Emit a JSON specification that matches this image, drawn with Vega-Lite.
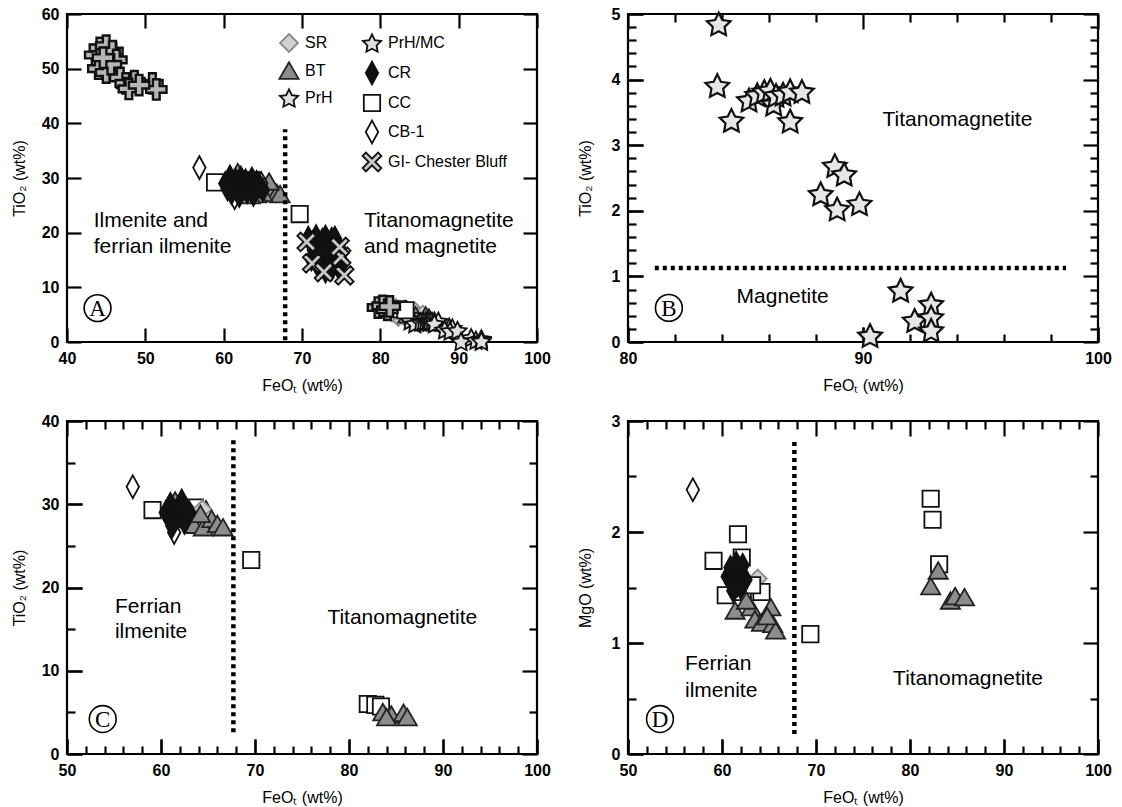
{
  "$schema": "https://vega.github.io/schema/vega-lite/v6.json",
  "background": "white",
  "padding": {"left": 10, "top": 4, "right": 5, "bottom": 0},
  "config": {
    "view": {"stroke": "#000000", "strokeWidth": 2.2},
    "axis": {"domain": false, "grid": false, "tickColor": "#000000", "tickWidth": 2.2, "labelFont": "Liberation Sans", "labelFontSize": 16, "labelFontWeight": "bold", "labelColor": "#000000", "labelPadding": 23, "titleFont": "Liberation Sans", "titleFontSize": 16, "titleFontWeight": "normal", "titleColor": "#000000", "labelFlush": false, "labelOverlap": false, "labelBound": false},
    "legend": {"labelFont": "Liberation Sans", "labelFontSize": 16, "labelColor": "#000000", "symbolSize": 576, "rowPadding": 2, "labelOffset": 3, "symbolStrokeWidth": 1.8, "padding": 0, "title": null},
    "text": {"font": "Liberation Sans", "fontSize": 21, "color": "#000000"}
  },
  "datasets": {
    "A_pts": [
      {"series": "Other", "FeOt": 43.6, "TiO2": 52.5}, {"series": "Other", "FeOt": 44.2, "TiO2": 53.8}, {"series": "Other", "FeOt": 45.0, "TiO2": 54.2}, {"series": "Other", "FeOt": 45.8, "TiO2": 53.2}, {"series": "Other", "FeOt": 46.3, "TiO2": 51.6}, {"series": "Other", "FeOt": 44.0, "TiO2": 50.0}, {"series": "Other", "FeOt": 45.0, "TiO2": 49.3}, {"series": "Other", "FeOt": 45.6, "TiO2": 50.8}, {"series": "Other", "FeOt": 44.6, "TiO2": 52.0}, {"series": "Other", "FeOt": 46.8, "TiO2": 48.3}, {"series": "Other", "FeOt": 47.5, "TiO2": 47.3}, {"series": "Other", "FeOt": 48.6, "TiO2": 47.7}, {"series": "Other", "FeOt": 47.9, "TiO2": 46.3}, {"series": "Other", "FeOt": 50.9, "TiO2": 47.3}, {"series": "Other", "FeOt": 51.4, "TiO2": 46.2}, {"series": "Other", "FeOt": 49.2, "TiO2": 47.0}, {"series": "Other", "FeOt": 79.7, "TiO2": 6.3}, {"series": "Other", "FeOt": 80.3, "TiO2": 6.6}, {"series": "Other", "FeOt": 80.9, "TiO2": 5.9}, {"series": "Other", "FeOt": 81.2, "TiO2": 6.5},
      {"series": "CB-1", "FeOt": 56.9, "TiO2": 31.9}, {"series": "CB-1", "FeOt": 61.4, "TiO2": 26.4}, {"series": "CB-1", "FeOt": 64.8, "TiO2": 29.0},
      {"series": "CC", "FeOt": 58.9, "TiO2": 29.2}, {"series": "CC", "FeOt": 69.7, "TiO2": 23.4}, {"series": "CC", "FeOt": 61.8, "TiO2": 29.8}, {"series": "CC", "FeOt": 62.8, "TiO2": 28.2}, {"series": "CC", "FeOt": 63.6, "TiO2": 29.6}, {"series": "CC", "FeOt": 82.3, "TiO2": 6.0}, {"series": "CC", "FeOt": 83.2, "TiO2": 5.8},
      {"series": "SR", "FeOt": 62.0, "TiO2": 29.5}, {"series": "SR", "FeOt": 63.0, "TiO2": 28.0}, {"series": "SR", "FeOt": 64.5, "TiO2": 29.5}, {"series": "SR", "FeOt": 65.0, "TiO2": 28.5}, {"series": "SR", "FeOt": 82.0, "TiO2": 6.2}, {"series": "SR", "FeOt": 82.6, "TiO2": 5.6}, {"series": "SR", "FeOt": 83.2, "TiO2": 6.0}, {"series": "SR", "FeOt": 83.8, "TiO2": 5.2}, {"series": "SR", "FeOt": 84.4, "TiO2": 5.6}, {"series": "SR", "FeOt": 83.0, "TiO2": 4.8}, {"series": "SR", "FeOt": 84.8, "TiO2": 4.6}, {"series": "SR", "FeOt": 85.4, "TiO2": 5.0}, {"series": "SR", "FeOt": 82.3, "TiO2": 4.6}, {"series": "SR", "FeOt": 81.5, "TiO2": 5.4},
      {"series": "BT", "FeOt": 65.6, "TiO2": 28.6}, {"series": "BT", "FeOt": 66.2, "TiO2": 27.8}, {"series": "BT", "FeOt": 66.8, "TiO2": 27.2}, {"series": "BT", "FeOt": 67.2, "TiO2": 27.0}, {"series": "BT", "FeOt": 65.0, "TiO2": 27.2}, {"series": "BT", "FeOt": 64.2, "TiO2": 27.0}, {"series": "BT", "FeOt": 63.4, "TiO2": 26.8}, {"series": "BT", "FeOt": 65.8, "TiO2": 29.3}, {"series": "BT", "FeOt": 61.8, "TiO2": 31.0}, {"series": "BT", "FeOt": 83.5, "TiO2": 5.0}, {"series": "BT", "FeOt": 84.5, "TiO2": 4.8}, {"series": "BT", "FeOt": 85.8, "TiO2": 4.8}, {"series": "BT", "FeOt": 86.2, "TiO2": 4.4},
      {"series": "CR", "FeOt": 60.2, "TiO2": 29.0}, {"series": "CR", "FeOt": 60.8, "TiO2": 30.2}, {"series": "CR", "FeOt": 61.2, "TiO2": 28.5}, {"series": "CR", "FeOt": 61.5, "TiO2": 29.6}, {"series": "CR", "FeOt": 61.9, "TiO2": 27.8}, {"series": "CR", "FeOt": 62.2, "TiO2": 30.0}, {"series": "CR", "FeOt": 62.5, "TiO2": 28.8}, {"series": "CR", "FeOt": 62.8, "TiO2": 29.5}, {"series": "CR", "FeOt": 63.0, "TiO2": 27.5}, {"series": "CR", "FeOt": 63.3, "TiO2": 28.6}, {"series": "CR", "FeOt": 63.6, "TiO2": 29.8}, {"series": "CR", "FeOt": 64.0, "TiO2": 28.0}, {"series": "CR", "FeOt": 64.2, "TiO2": 29.2}, {"series": "CR", "FeOt": 61.0, "TiO2": 27.3}, {"series": "CR", "FeOt": 60.5, "TiO2": 28.0}, {"series": "CR", "FeOt": 62.0, "TiO2": 26.8}, {"series": "CR", "FeOt": 63.8, "TiO2": 27.0}, {"series": "CR", "FeOt": 64.6, "TiO2": 28.6}, {"series": "CR", "FeOt": 65.0, "TiO2": 27.8},
      {"series": "CR", "FeOt": 70.8, "TiO2": 19.0}, {"series": "CR", "FeOt": 71.3, "TiO2": 18.2}, {"series": "CR", "FeOt": 71.8, "TiO2": 19.3}, {"series": "CR", "FeOt": 72.2, "TiO2": 17.5}, {"series": "CR", "FeOt": 72.6, "TiO2": 18.6}, {"series": "CR", "FeOt": 73.0, "TiO2": 19.2}, {"series": "CR", "FeOt": 73.4, "TiO2": 17.8}, {"series": "CR", "FeOt": 73.8, "TiO2": 18.8}, {"series": "CR", "FeOt": 74.2, "TiO2": 19.0}, {"series": "CR", "FeOt": 74.6, "TiO2": 17.6}, {"series": "CR", "FeOt": 72.0, "TiO2": 16.2}, {"series": "CR", "FeOt": 72.5, "TiO2": 15.3}, {"series": "CR", "FeOt": 73.0, "TiO2": 16.8}, {"series": "CR", "FeOt": 73.5, "TiO2": 14.6}, {"series": "CR", "FeOt": 74.0, "TiO2": 16.0}, {"series": "CR", "FeOt": 74.5, "TiO2": 15.0}, {"series": "CR", "FeOt": 75.0, "TiO2": 16.6}, {"series": "CR", "FeOt": 72.2, "TiO2": 13.5}, {"series": "CR", "FeOt": 73.0, "TiO2": 13.0}, {"series": "CR", "FeOt": 73.8, "TiO2": 13.4}, {"series": "CR", "FeOt": 74.6, "TiO2": 13.8}, {"series": "CR", "FeOt": 75.2, "TiO2": 14.5}, {"series": "CR", "FeOt": 71.5, "TiO2": 16.8}, {"series": "CR", "FeOt": 71.2, "TiO2": 15.2},
      {"series": "GI- Chester Bluff", "FeOt": 70.6, "TiO2": 18.3}, {"series": "GI- Chester Bluff", "FeOt": 71.3, "TiO2": 14.4}, {"series": "GI- Chester Bluff", "FeOt": 75.4, "TiO2": 12.2}, {"series": "GI- Chester Bluff", "FeOt": 75.0, "TiO2": 15.6}, {"series": "GI- Chester Bluff", "FeOt": 74.8, "TiO2": 17.4}, {"series": "GI- Chester Bluff", "FeOt": 72.8, "TiO2": 12.8},
      {"series": "PrH", "FeOt": 83.86, "TiO2": 4.85}, {"series": "PrH", "FeOt": 83.8, "TiO2": 3.91}, {"series": "PrH", "FeOt": 84.4, "TiO2": 3.38}, {"series": "PrH", "FeOt": 85.15, "TiO2": 3.69}, {"series": "PrH", "FeOt": 85.5, "TiO2": 3.77}, {"series": "PrH", "FeOt": 85.8, "TiO2": 3.82}, {"series": "PrH", "FeOt": 86.06, "TiO2": 3.84}, {"series": "PrH", "FeOt": 86.2, "TiO2": 3.63}, {"series": "PrH", "FeOt": 86.3, "TiO2": 3.76}, {"series": "PrH", "FeOt": 86.6, "TiO2": 3.78}, {"series": "PrH", "FeOt": 86.9, "TiO2": 3.83}, {"series": "PrH", "FeOt": 87.4, "TiO2": 3.82}, {"series": "PrH", "FeOt": 86.9, "TiO2": 3.37}, {"series": "PrH", "FeOt": 88.8, "TiO2": 2.69}, {"series": "PrH", "FeOt": 89.2, "TiO2": 2.56}, {"series": "PrH", "FeOt": 88.2, "TiO2": 2.26}, {"series": "PrH", "FeOt": 88.9, "TiO2": 2.03}, {"series": "PrH", "FeOt": 89.85, "TiO2": 2.11},
      {"series": "PrH/MC", "FeOt": 91.6, "TiO2": 0.79}, {"series": "PrH/MC", "FeOt": 90.3, "TiO2": 0.10}, {"series": "PrH/MC", "FeOt": 92.2, "TiO2": 0.33}, {"series": "PrH/MC", "FeOt": 92.9, "TiO2": 0.58}, {"series": "PrH/MC", "FeOt": 92.9, "TiO2": 0.38}, {"series": "PrH/MC", "FeOt": 92.9, "TiO2": 0.18}
    ],
    "B_pts": [
      {"series": "PrH", "FeOt": 83.86, "TiO2": 4.85}, {"series": "PrH", "FeOt": 83.8, "TiO2": 3.91}, {"series": "PrH", "FeOt": 84.4, "TiO2": 3.38}, {"series": "PrH", "FeOt": 85.15, "TiO2": 3.69}, {"series": "PrH", "FeOt": 85.5, "TiO2": 3.77}, {"series": "PrH", "FeOt": 85.8, "TiO2": 3.82}, {"series": "PrH", "FeOt": 86.06, "TiO2": 3.84}, {"series": "PrH", "FeOt": 86.2, "TiO2": 3.63}, {"series": "PrH", "FeOt": 86.3, "TiO2": 3.76}, {"series": "PrH", "FeOt": 86.6, "TiO2": 3.78}, {"series": "PrH", "FeOt": 86.9, "TiO2": 3.83}, {"series": "PrH", "FeOt": 87.4, "TiO2": 3.82}, {"series": "PrH", "FeOt": 86.9, "TiO2": 3.37}, {"series": "PrH", "FeOt": 88.8, "TiO2": 2.69}, {"series": "PrH", "FeOt": 89.2, "TiO2": 2.56}, {"series": "PrH", "FeOt": 88.2, "TiO2": 2.26}, {"series": "PrH", "FeOt": 88.9, "TiO2": 2.03}, {"series": "PrH", "FeOt": 89.85, "TiO2": 2.11},
      {"series": "PrH/MC", "FeOt": 91.6, "TiO2": 0.79}, {"series": "PrH/MC", "FeOt": 90.3, "TiO2": 0.10}, {"series": "PrH/MC", "FeOt": 92.2, "TiO2": 0.33}, {"series": "PrH/MC", "FeOt": 92.9, "TiO2": 0.58}, {"series": "PrH/MC", "FeOt": 92.9, "TiO2": 0.38}, {"series": "PrH/MC", "FeOt": 92.9, "TiO2": 0.18}
    ],
    "C_pts": [
      {"series": "CB-1", "FeOt": 57.0, "TiO2": 32.1}, {"series": "CB-1", "FeOt": 61.4, "TiO2": 26.6}, {"series": "CB-1", "FeOt": 64.8, "TiO2": 29.0},
      {"series": "CC", "FeOt": 59.1, "TiO2": 29.3}, {"series": "CC", "FeOt": 69.6, "TiO2": 23.3}, {"series": "CC", "FeOt": 61.8, "TiO2": 29.8}, {"series": "CC", "FeOt": 62.8, "TiO2": 28.2}, {"series": "CC", "FeOt": 63.6, "TiO2": 29.6}, {"series": "CC", "FeOt": 82.0, "TiO2": 6.0}, {"series": "CC", "FeOt": 82.8, "TiO2": 5.9}, {"series": "CC", "FeOt": 83.4, "TiO2": 5.7},
      {"series": "SR", "FeOt": 62.6, "TiO2": 29.6}, {"series": "SR", "FeOt": 63.6, "TiO2": 28.0}, {"series": "SR", "FeOt": 64.4, "TiO2": 29.4},
      {"series": "BT", "FeOt": 61.5, "TiO2": 30.4}, {"series": "BT", "FeOt": 63.5, "TiO2": 27.5}, {"series": "BT", "FeOt": 64.5, "TiO2": 27.2}, {"series": "BT", "FeOt": 65.4, "TiO2": 28.2}, {"series": "BT", "FeOt": 66.0, "TiO2": 27.6}, {"series": "BT", "FeOt": 66.6, "TiO2": 27.2}, {"series": "BT", "FeOt": 64.2, "TiO2": 28.8}, {"series": "BT", "FeOt": 83.6, "TiO2": 5.0}, {"series": "BT", "FeOt": 84.5, "TiO2": 4.7}, {"series": "BT", "FeOt": 85.8, "TiO2": 4.9}, {"series": "BT", "FeOt": 86.2, "TiO2": 4.4}, {"series": "BT", "FeOt": 84.0, "TiO2": 4.4},
      {"series": "CR", "FeOt": 60.5, "TiO2": 29.0}, {"series": "CR", "FeOt": 61.0, "TiO2": 30.0}, {"series": "CR", "FeOt": 61.5, "TiO2": 28.2}, {"series": "CR", "FeOt": 62.0, "TiO2": 29.2}, {"series": "CR", "FeOt": 62.5, "TiO2": 27.8}, {"series": "CR", "FeOt": 63.0, "TiO2": 29.0}, {"series": "CR", "FeOt": 61.2, "TiO2": 27.4}, {"series": "CR", "FeOt": 62.2, "TiO2": 30.4}
    ],
    "D_pts": [
      {"series": "CB-1", "FeOt": 56.9, "MgO": 2.38}, {"series": "SR", "FeOt": 63.8, "MgO": 1.58},
      {"series": "CC", "FeOt": 59.1, "MgO": 1.74}, {"series": "CC", "FeOt": 61.7, "MgO": 1.98}, {"series": "CC", "FeOt": 62.1, "MgO": 1.77}, {"series": "CC", "FeOt": 60.4, "MgO": 1.43}, {"series": "CC", "FeOt": 64.2, "MgO": 1.46}, {"series": "CC", "FeOt": 62.2, "MgO": 1.46}, {"series": "CC", "FeOt": 63.2, "MgO": 1.52}, {"series": "CC", "FeOt": 69.4, "MgO": 1.08}, {"series": "CC", "FeOt": 82.2, "MgO": 2.30}, {"series": "CC", "FeOt": 82.4, "MgO": 2.11}, {"series": "CC", "FeOt": 83.1, "MgO": 1.71},
      {"series": "CR", "FeOt": 60.6, "MgO": 1.60}, {"series": "CR", "FeOt": 61.0, "MgO": 1.55}, {"series": "CR", "FeOt": 61.3, "MgO": 1.65}, {"series": "CR", "FeOt": 61.6, "MgO": 1.52}, {"series": "CR", "FeOt": 61.9, "MgO": 1.62}, {"series": "CR", "FeOt": 62.2, "MgO": 1.70}, {"series": "CR", "FeOt": 62.5, "MgO": 1.57}, {"series": "CR", "FeOt": 61.2, "MgO": 1.47}, {"series": "CR", "FeOt": 62.0, "MgO": 1.50}, {"series": "CR", "FeOt": 60.9, "MgO": 1.68}, {"series": "CR", "FeOt": 61.5, "MgO": 1.72},
      {"series": "BT", "FeOt": 61.4, "MgO": 1.29}, {"series": "BT", "FeOt": 63.1, "MgO": 1.32}, {"series": "BT", "FeOt": 63.5, "MgO": 1.21}, {"series": "BT", "FeOt": 64.2, "MgO": 1.18}, {"series": "BT", "FeOt": 65.2, "MgO": 1.32}, {"series": "BT", "FeOt": 65.4, "MgO": 1.17}, {"series": "BT", "FeOt": 65.7, "MgO": 1.11}, {"series": "BT", "FeOt": 64.8, "MgO": 1.24}, {"series": "BT", "FeOt": 62.6, "MgO": 1.38}, {"series": "BT", "FeOt": 82.2, "MgO": 1.51}, {"series": "BT", "FeOt": 83.0, "MgO": 1.65}, {"series": "BT", "FeOt": 84.3, "MgO": 1.38}, {"series": "BT", "FeOt": 84.8, "MgO": 1.42}, {"series": "BT", "FeOt": 85.8, "MgO": 1.41}
    ],
    "notes": [
      {"panel": "A", "FeOt": 43.4, "val": 22.2, "text": "Ilmenite and"},
      {"panel": "A", "FeOt": 43.4, "val": 17.4, "text": "ferrian ilmenite"},
      {"panel": "A", "FeOt": 77.9, "val": 22.2, "text": "Titanomagnetite"},
      {"panel": "A", "FeOt": 77.9, "val": 17.4, "text": "and magnetite"},
      {"panel": "B", "FeOt": 90.83, "val": 3.38, "text": "Titanomagnetite"},
      {"panel": "B", "FeOt": 84.62, "val": 0.69, "text": "Magnetite"},
      {"panel": "C", "FeOt": 55.1, "val": 17.7, "text": "Ferrian"},
      {"panel": "C", "FeOt": 55.1, "val": 14.7, "text": "ilmenite"},
      {"panel": "C", "FeOt": 77.7, "val": 16.3, "text": "Titanomagnetite"},
      {"panel": "D", "FeOt": 56.06, "val": 0.81, "text": "Ferrian"},
      {"panel": "D", "FeOt": 56.06, "val": 0.57, "text": "ilmenite"},
      {"panel": "D", "FeOt": 78.2, "val": 0.675, "text": "Titanomagnetite"}
    ],
    "letters": [
      {"panel": "A", "FeOt": 43.9, "val": 6.2, "letter": "A"},
      {"panel": "B", "FeOt": 81.74, "val": 0.52, "letter": "B"},
      {"panel": "C", "FeOt": 53.8, "val": 4.2, "letter": "C"},
      {"panel": "D", "FeOt": 53.4, "val": 0.315, "letter": "D"}
    ],
    "lines": [
      {"panel": "A", "FeOt": 67.85, "FeOt2": 67.85, "val": 0.3, "val2": 38.9},
      {"panel": "B", "FeOt": 81.14, "FeOt2": 98.64, "val": 1.127, "val2": 1.127},
      {"panel": "C", "FeOt": 67.7, "FeOt2": 67.7, "val": 2.6, "val2": 37.9},
      {"panel": "D", "FeOt": 67.7, "FeOt2": 67.7, "val": 0.18, "val2": 2.835}
    ]
  },
  "vconcat": [
    {
      "hconcat": [
        {
          "width": 470, "height": 328,
          "layer": [
            {
              "layer": [
                {
                  "data": {"name": "A_pts"},
                  "transform": [{"filter": {"field": "series", "oneOf": ["SR", "BT", "PrH"]}}],
                  "mark": {"type": "point", "filled": true, "size": 576, "strokeWidth": 1.8, "opacity": 1},
                  "encoding": {
                    "x": {"field": "FeOt", "type": "quantitative", "scale": {"domain": [40, 100], "nice": false, "zero": false}, "axis": {"title": "FeOₜ (wt%)", "values": [40, 50, 60, 70, 80, 90, 100], "tickSize": -14, "labelPadding": 22, "titlePadding": 11, "format": "d"}},
                    "y": {"field": "TiO2", "type": "quantitative", "scale": {"domain": [0, 60], "nice": false, "zero": false}, "axis": {"title": "TiO₂ (wt%)", "values": [0, 10, 20, 30, 40, 50, 60], "tickSize": -14, "labelPadding": 22, "titlePadding": 14, "format": "d"}},
                    "shape": {"field": "series", "type": "nominal", "scale": {"domain": ["SR", "BT", "PrH"], "range": ["M0,-0.75L0.75,0L0,0.75L-0.75,0Z", "M0,-0.72L0.8,0.66L-0.8,0.66Z", "M0,-0.72L0.235,-0.244L0.761,-0.167L0.38,0.204L0.47,0.727L0,0.48L-0.47,0.727L-0.38,0.204L-0.761,-0.167L-0.235,-0.244Z"]}, "legend": {"orient": "none", "legendX": 209, "legendY": 16, "direction": "vertical", "title": null}},
                    "fill": {"field": "series", "type": "nominal", "scale": {"domain": ["SR", "BT", "PrH"], "range": ["#d0d0d0", "#8c8c8c", "#e0e0e0"]}},
                    "stroke": {"field": "series", "type": "nominal", "scale": {"domain": ["SR", "BT", "PrH"], "range": ["#8a8a8a", "#222222", "#111111"]}}
                  }
                },
                {
                  "data": {"name": "A_pts"},
                  "transform": [{"filter": {"field": "series", "oneOf": ["PrH/MC", "CR", "CC", "CB-1", "GI- Chester Bluff"]}}],
                  "mark": {"type": "point", "filled": true, "size": 576, "strokeWidth": 1.8, "opacity": 1},
                  "encoding": {
                    "x": {"field": "FeOt", "type": "quantitative"},
                    "y": {"field": "TiO2", "type": "quantitative"},
                    "shape": {"field": "series", "type": "nominal", "scale": {"domain": ["PrH/MC", "CR", "CC", "CB-1", "GI- Chester Bluff"], "range": ["M0,-0.72L0.235,-0.244L0.761,-0.167L0.38,0.204L0.47,0.727L0,0.48L-0.47,0.727L-0.38,0.204L-0.761,-0.167L-0.235,-0.244Z", "M0,-0.95L0.52,0L0,0.95L-0.52,0Z", "M-0.68,-0.68L0.68,-0.68L0.68,0.68L-0.68,0.68Z", "M0,-0.95L0.52,0L0,0.95L-0.52,0Z", "M-0.78,-0.507L-0.507,-0.78L0,-0.273L0.507,-0.78L0.78,-0.507L0.273,0L0.78,0.507L0.507,0.78L0,0.273L-0.507,0.78L-0.78,0.507L-0.273,0Z"]}, "legend": {"orient": "none", "legendX": 292, "legendY": 16, "direction": "vertical", "title": null}},
                    "fill": {"field": "series", "type": "nominal", "scale": {"domain": ["PrH/MC", "CR", "CC", "CB-1", "GI- Chester Bluff"], "range": ["#e0e0e0", "#111111", "#ffffff", "#ffffff", "#c8c8c8"]}},
                    "stroke": {"field": "series", "type": "nominal", "scale": {"domain": ["PrH/MC", "CR", "CC", "CB-1", "GI- Chester Bluff"], "range": ["#111111", "#111111", "#111111", "#111111", "#111111"]}}
                  }
                },
                {
                  "data": {"name": "A_pts"},
                  "transform": [{"filter": {"field": "series", "equal": "Other"}}],
                  "mark": {"type": "point", "filled": true, "size": 576, "strokeWidth": 2.4, "opacity": 1, "shape": "M-0.28,-0.85L0.28,-0.85L0.28,-0.28L0.85,-0.28L0.85,0.28L0.28,0.28L0.28,0.85L-0.28,0.85L-0.28,0.28L-0.85,0.28L-0.85,-0.28L-0.28,-0.28Z", "fill": "#b5b5b5", "stroke": "#111111"},
                  "encoding": {
                    "x": {"field": "FeOt", "type": "quantitative"},
                    "y": {"field": "TiO2", "type": "quantitative"}
                  }
                },
                {
                  "data": {"name": "notes"},
                  "transform": [{"filter": "datum.panel === 'A'"}],
                  "mark": {"type": "text", "align": "left", "baseline": "middle"},
                  "encoding": {"x": {"field": "FeOt", "type": "quantitative"}, "y": {"field": "val", "type": "quantitative"}, "text": {"field": "text"}}
                },
                {
                  "data": {"name": "letters"},
                  "transform": [{"filter": "datum.panel === 'A'"}],
                  "mark": {"type": "point", "shape": "circle", "size": 720, "filled": false, "stroke": "#000000", "strokeWidth": 1.6, "opacity": 1},
                  "encoding": {"x": {"field": "FeOt", "type": "quantitative"}, "y": {"field": "val", "type": "quantitative"}}
                },
                {
                  "data": {"name": "letters"},
                  "transform": [{"filter": "datum.panel === 'A'"}],
                  "mark": {"type": "text", "font": "Liberation Serif", "fontSize": 23, "align": "center", "baseline": "middle", "dy": 1},
                  "encoding": {"x": {"field": "FeOt", "type": "quantitative"}, "y": {"field": "val", "type": "quantitative"}, "text": {"field": "letter"}}
                }
              ],
              "resolve": {"scale": {"shape": "independent", "fill": "independent", "stroke": "independent"}, "legend": {"shape": "independent", "fill": "independent", "stroke": "independent"}}
            },
            {
              "data": {"name": "lines"},
              "transform": [{"filter": "datum.panel === 'A'"}],
              "mark": {"type": "rule", "strokeDash": [4, 4], "strokeWidth": 4.5, "color": "#000000"},
              "encoding": {
                "x": {"field": "FeOt", "type": "quantitative", "axis": {"orient": "top", "values": [40, 50, 60, 70, 80, 90, 100], "tickSize": -14, "labels": false, "title": null}},
                "y": {"field": "val", "type": "quantitative", "axis": {"orient": "right", "values": [0, 10, 20, 30, 40, 50, 60], "tickSize": -14, "labels": false, "title": null}},
                "y2": {"field": "val2"}
              }
            }
          ],
          "resolve": {"axis": {"x": "independent", "y": "independent"}}
        },
        {
          "width": 470, "height": 328,
          "layer": [
            {
              "layer": [
                {
                  "data": {"name": "B_pts"},
                  "mark": {"type": "point", "filled": true, "size": 961, "strokeWidth": 2.2, "opacity": 1, "shape": "M0,-0.72L0.235,-0.244L0.761,-0.167L0.38,0.204L0.47,0.727L0,0.48L-0.47,0.727L-0.38,0.204L-0.761,-0.167L-0.235,-0.244Z", "fill": "#e6e6e6", "stroke": "#111111"},
                  "encoding": {
                    "x": {"field": "FeOt", "type": "quantitative", "scale": {"domain": [80, 100], "nice": false, "zero": false}, "axis": {"title": "FeOₜ (wt%)", "values": [80, 90, 100], "tickSize": -15, "titlePadding": 11, "format": "d"}},
                    "y": {"field": "TiO2", "type": "quantitative", "scale": {"domain": [0, 5], "nice": false, "zero": false}, "axis": {"title": "TiO₂ (wt%)", "values": [0, 1, 2, 3, 4, 5], "tickSize": -15, "titlePadding": 18, "format": "d"}}
                  }
                },
                {
                  "data": {"name": "notes"},
                  "transform": [{"filter": "datum.panel === 'B'"}],
                  "mark": {"type": "text", "align": "left", "baseline": "middle"},
                  "encoding": {"x": {"field": "FeOt", "type": "quantitative"}, "y": {"field": "val", "type": "quantitative"}, "text": {"field": "text"}}
                },
                {
                  "data": {"name": "letters"},
                  "transform": [{"filter": "datum.panel === 'B'"}],
                  "mark": {"type": "point", "shape": "circle", "size": 720, "filled": false, "stroke": "#000000", "strokeWidth": 1.6, "opacity": 1},
                  "encoding": {"x": {"field": "FeOt", "type": "quantitative"}, "y": {"field": "val", "type": "quantitative"}}
                }
              ]
            },
            {
              "data": {"name": "lines"},
              "transform": [{"filter": "datum.panel === 'B'"}],
              "mark": {"type": "rule", "strokeDash": [4, 4], "strokeWidth": 4.5, "color": "#000000"},
              "encoding": {
                "x": {"field": "FeOt", "type": "quantitative", "axis": {"orient": "top", "values": [80, 82, 84, 86, 88, 90, 92, 94, 96, 98, 100], "tickSize": {"condition": {"test": "datum.value % 10 === 0", "value": -15}, "value": -8}, "labels": false, "title": null}},
                "x2": {"field": "FeOt2"},
                "y": {"field": "val", "type": "quantitative", "axis": {"orient": "right", "values": [0, 0.2, 0.4, 0.6, 0.8, 1, 1.2, 1.4, 1.6, 1.8, 2, 2.2, 2.4, 2.6, 2.8, 3, 3.2, 3.4, 3.6, 3.8, 4, 4.2, 4.4, 4.6, 4.8, 5], "tickSize": {"condition": {"test": "abs(datum.value - round(datum.value)) < 0.001", "value": -15}, "value": -8}, "labels": false, "title": null}}
              }
            },
            {
              "data": {"name": "letters"},
              "transform": [{"filter": "datum.panel === 'B'"}],
              "mark": {"type": "text", "font": "Liberation Serif", "fontSize": 23, "align": "center", "baseline": "middle", "dy": 1},
              "encoding": {
                "x": {"field": "FeOt", "type": "quantitative", "axis": {"orient": "bottom", "values": [80, 82, 84, 86, 88, 90, 92, 94, 96, 98, 100], "tickSize": {"condition": {"test": "datum.value % 10 === 0", "value": -15}, "value": -8}, "labels": false, "title": null}},
                "y": {"field": "val", "type": "quantitative", "axis": {"orient": "left", "values": [0, 0.2, 0.4, 0.6, 0.8, 1, 1.2, 1.4, 1.6, 1.8, 2, 2.2, 2.4, 2.6, 2.8, 3, 3.2, 3.4, 3.6, 3.8, 4, 4.2, 4.4, 4.6, 4.8, 5], "tickSize": {"condition": {"test": "abs(datum.value - round(datum.value)) < 0.001", "value": -15}, "value": -8}, "labels": false, "title": null}},
                "text": {"field": "letter"}
              }
            }
          ],
          "resolve": {"axis": {"x": "independent", "y": "independent"}}
        }
      ],
      "spacing": 91, "bounds": "flush",
      "resolve": {"scale": {"shape": "independent", "fill": "independent", "stroke": "independent"}, "legend": {"shape": "independent", "fill": "independent", "stroke": "independent"}}
    },
    {
      "hconcat": [
        {
          "width": 470, "height": 333,
          "layer": [
            {
              "layer": [
                {
                  "data": {"name": "C_pts"},
                  "mark": {"type": "point", "filled": true, "size": 576, "strokeWidth": 1.8, "opacity": 1},
                  "encoding": {
                    "x": {"field": "FeOt", "type": "quantitative", "scale": {"domain": [50, 100], "nice": false, "zero": false}, "axis": {"title": "FeOₜ (wt%)", "values": [50, 60, 70, 80, 90, 100], "tickSize": -15, "titlePadding": 11, "format": "d"}},
                    "y": {"field": "TiO2", "type": "quantitative", "scale": {"domain": [0, 40], "nice": false, "zero": false}, "axis": {"title": "TiO₂ (wt%)", "values": [0, 10, 20, 30, 40], "tickSize": -15, "titlePadding": 14, "format": "d"}},
                    "shape": {"field": "series", "type": "nominal", "scale": {"domain": ["SR", "BT", "PrH", "PrH/MC", "CR", "CC", "CB-1", "GI- Chester Bluff"], "range": ["M0,-0.75L0.75,0L0,0.75L-0.75,0Z", "M0,-0.72L0.8,0.66L-0.8,0.66Z", "M0,-0.72L0.235,-0.244L0.761,-0.167L0.38,0.204L0.47,0.727L0,0.48L-0.47,0.727L-0.38,0.204L-0.761,-0.167L-0.235,-0.244Z", "M0,-0.72L0.235,-0.244L0.761,-0.167L0.38,0.204L0.47,0.727L0,0.48L-0.47,0.727L-0.38,0.204L-0.761,-0.167L-0.235,-0.244Z", "M0,-0.95L0.52,0L0,0.95L-0.52,0Z", "M-0.68,-0.68L0.68,-0.68L0.68,0.68L-0.68,0.68Z", "M0,-0.95L0.52,0L0,0.95L-0.52,0Z", "M-0.78,-0.507L-0.507,-0.78L0,-0.273L0.507,-0.78L0.78,-0.507L0.273,0L0.78,0.507L0.507,0.78L0,0.273L-0.507,0.78L-0.78,0.507L-0.273,0Z"]}, "legend": null},
                    "fill": {"field": "series", "type": "nominal", "scale": {"domain": ["SR", "BT", "PrH", "PrH/MC", "CR", "CC", "CB-1", "GI- Chester Bluff"], "range": ["#d0d0d0", "#8c8c8c", "#e0e0e0", "#e0e0e0", "#111111", "#ffffff", "#ffffff", "#c8c8c8"]}, "legend": null},
                    "stroke": {"field": "series", "type": "nominal", "scale": {"domain": ["SR", "BT", "PrH", "PrH/MC", "CR", "CC", "CB-1", "GI- Chester Bluff"], "range": ["#8a8a8a", "#222222", "#111111", "#111111", "#111111", "#111111", "#111111", "#111111"]}, "legend": null}
                  }
                },
                {
                  "data": {"name": "notes"},
                  "transform": [{"filter": "datum.panel === 'C'"}],
                  "mark": {"type": "text", "align": "left", "baseline": "middle"},
                  "encoding": {"x": {"field": "FeOt", "type": "quantitative"}, "y": {"field": "val", "type": "quantitative"}, "text": {"field": "text"}}
                },
                {
                  "data": {"name": "letters"},
                  "transform": [{"filter": "datum.panel === 'C'"}],
                  "mark": {"type": "point", "shape": "circle", "size": 720, "filled": false, "stroke": "#000000", "strokeWidth": 1.6, "opacity": 1},
                  "encoding": {"x": {"field": "FeOt", "type": "quantitative"}, "y": {"field": "val", "type": "quantitative"}}
                }
              ]
            },
            {
              "data": {"name": "lines"},
              "transform": [{"filter": "datum.panel === 'C'"}],
              "mark": {"type": "rule", "strokeDash": [4, 4], "strokeWidth": 4.5, "color": "#000000"},
              "encoding": {
                "x": {"field": "FeOt", "type": "quantitative", "axis": {"orient": "top", "values": [50, 52, 54, 56, 58, 60, 62, 64, 66, 68, 70, 72, 74, 76, 78, 80, 82, 84, 86, 88, 90, 92, 94, 96, 98, 100], "tickSize": {"condition": {"test": "datum.value % 10 === 0", "value": -15}, "value": -8}, "labels": false, "title": null}},
                "y": {"field": "val", "type": "quantitative", "axis": {"orient": "right", "values": [0, 5, 10, 15, 20, 25, 30, 35, 40], "tickSize": {"condition": {"test": "datum.value % 10 === 0", "value": -15}, "value": -8}, "labels": false, "title": null}},
                "y2": {"field": "val2"}
              }
            },
            {
              "data": {"name": "letters"},
              "transform": [{"filter": "datum.panel === 'C'"}],
              "mark": {"type": "text", "font": "Liberation Serif", "fontSize": 23, "align": "center", "baseline": "middle", "dy": 1},
              "encoding": {
                "x": {"field": "FeOt", "type": "quantitative", "axis": {"orient": "bottom", "values": [50, 52, 54, 56, 58, 60, 62, 64, 66, 68, 70, 72, 74, 76, 78, 80, 82, 84, 86, 88, 90, 92, 94, 96, 98, 100], "tickSize": {"condition": {"test": "datum.value % 10 === 0", "value": -15}, "value": -8}, "labels": false, "title": null}},
                "y": {"field": "val", "type": "quantitative", "axis": {"orient": "left", "values": [0, 5, 10, 15, 20, 25, 30, 35, 40], "tickSize": {"condition": {"test": "datum.value % 10 === 0", "value": -15}, "value": -8}, "labels": false, "title": null}},
                "text": {"field": "letter"}
              }
            }
          ],
          "resolve": {"axis": {"x": "independent", "y": "independent"}}
        },
        {
          "width": 470, "height": 333,
          "layer": [
            {
              "layer": [
                {
                  "data": {"name": "D_pts"},
                  "mark": {"type": "point", "filled": true, "size": 576, "strokeWidth": 1.8, "opacity": 1},
                  "encoding": {
                    "x": {"field": "FeOt", "type": "quantitative", "scale": {"domain": [50, 100], "nice": false, "zero": false}, "axis": {"title": "FeOₜ (wt%)", "values": [50, 60, 70, 80, 90, 100], "tickSize": -15, "titlePadding": 11, "format": "d"}},
                    "y": {"field": "MgO", "type": "quantitative", "scale": {"domain": [0, 3], "nice": false, "zero": false}, "axis": {"title": "MgO (wt%)", "values": [0, 1, 2, 3], "tickSize": -15, "titlePadding": 18, "format": "d"}},
                    "shape": {"field": "series", "type": "nominal", "scale": {"domain": ["SR", "BT", "PrH", "PrH/MC", "CR", "CC", "CB-1", "GI- Chester Bluff"], "range": ["M0,-0.75L0.75,0L0,0.75L-0.75,0Z", "M0,-0.72L0.8,0.66L-0.8,0.66Z", "M0,-0.72L0.235,-0.244L0.761,-0.167L0.38,0.204L0.47,0.727L0,0.48L-0.47,0.727L-0.38,0.204L-0.761,-0.167L-0.235,-0.244Z", "M0,-0.72L0.235,-0.244L0.761,-0.167L0.38,0.204L0.47,0.727L0,0.48L-0.47,0.727L-0.38,0.204L-0.761,-0.167L-0.235,-0.244Z", "M0,-0.95L0.52,0L0,0.95L-0.52,0Z", "M-0.68,-0.68L0.68,-0.68L0.68,0.68L-0.68,0.68Z", "M0,-0.95L0.52,0L0,0.95L-0.52,0Z", "M-0.78,-0.507L-0.507,-0.78L0,-0.273L0.507,-0.78L0.78,-0.507L0.273,0L0.78,0.507L0.507,0.78L0,0.273L-0.507,0.78L-0.78,0.507L-0.273,0Z"]}, "legend": null},
                    "fill": {"field": "series", "type": "nominal", "scale": {"domain": ["SR", "BT", "PrH", "PrH/MC", "CR", "CC", "CB-1", "GI- Chester Bluff"], "range": ["#d0d0d0", "#8c8c8c", "#e0e0e0", "#e0e0e0", "#111111", "#ffffff", "#ffffff", "#c8c8c8"]}, "legend": null},
                    "stroke": {"field": "series", "type": "nominal", "scale": {"domain": ["SR", "BT", "PrH", "PrH/MC", "CR", "CC", "CB-1", "GI- Chester Bluff"], "range": ["#8a8a8a", "#222222", "#111111", "#111111", "#111111", "#111111", "#111111", "#111111"]}, "legend": null}
                  }
                },
                {
                  "data": {"name": "notes"},
                  "transform": [{"filter": "datum.panel === 'D'"}],
                  "mark": {"type": "text", "align": "left", "baseline": "middle"},
                  "encoding": {"x": {"field": "FeOt", "type": "quantitative"}, "y": {"field": "val", "type": "quantitative"}, "text": {"field": "text"}}
                },
                {
                  "data": {"name": "letters"},
                  "transform": [{"filter": "datum.panel === 'D'"}],
                  "mark": {"type": "point", "shape": "circle", "size": 720, "filled": false, "stroke": "#000000", "strokeWidth": 1.6, "opacity": 1},
                  "encoding": {"x": {"field": "FeOt", "type": "quantitative"}, "y": {"field": "val", "type": "quantitative"}}
                }
              ]
            },
            {
              "data": {"name": "lines"},
              "transform": [{"filter": "datum.panel === 'D'"}],
              "mark": {"type": "rule", "strokeDash": [4, 4], "strokeWidth": 4.5, "color": "#000000"},
              "encoding": {
                "x": {"field": "FeOt", "type": "quantitative", "axis": {"orient": "top", "values": [50, 52, 54, 56, 58, 60, 62, 64, 66, 68, 70, 72, 74, 76, 78, 80, 82, 84, 86, 88, 90, 92, 94, 96, 98, 100], "tickSize": {"condition": {"test": "datum.value % 10 === 0", "value": -15}, "value": -8}, "labels": false, "title": null}},
                "y": {"field": "val", "type": "quantitative", "axis": {"orient": "right", "values": [0, 0.5, 1, 1.5, 2, 2.5, 3], "tickSize": {"condition": {"test": "abs(datum.value - round(datum.value)) < 0.001", "value": -15}, "value": -8}, "labels": false, "title": null}},
                "y2": {"field": "val2"}
              }
            },
            {
              "data": {"name": "letters"},
              "transform": [{"filter": "datum.panel === 'D'"}],
              "mark": {"type": "text", "font": "Liberation Serif", "fontSize": 23, "align": "center", "baseline": "middle", "dy": 1},
              "encoding": {
                "x": {"field": "FeOt", "type": "quantitative", "axis": {"orient": "bottom", "values": [50, 52, 54, 56, 58, 60, 62, 64, 66, 68, 70, 72, 74, 76, 78, 80, 82, 84, 86, 88, 90, 92, 94, 96, 98, 100], "tickSize": {"condition": {"test": "datum.value % 10 === 0", "value": -15}, "value": -8}, "labels": false, "title": null}},
                "y": {"field": "val", "type": "quantitative", "axis": {"orient": "left", "values": [0, 0.5, 1, 1.5, 2, 2.5, 3], "tickSize": {"condition": {"test": "abs(datum.value - round(datum.value)) < 0.001", "value": -15}, "value": -8}, "labels": false, "title": null}},
                "text": {"field": "letter"}
              }
            }
          ],
          "resolve": {"axis": {"x": "independent", "y": "independent"}}
        }
      ],
      "spacing": 91, "bounds": "flush",
      "resolve": {"scale": {"shape": "independent", "fill": "independent", "stroke": "independent"}, "legend": {"shape": "independent", "fill": "independent", "stroke": "independent"}}
    }
  ],
  "spacing": 16,
  "resolve": {"scale": {"shape": "independent", "fill": "independent", "stroke": "independent"}, "legend": {"shape": "independent", "fill": "independent", "stroke": "independent"}}
}
